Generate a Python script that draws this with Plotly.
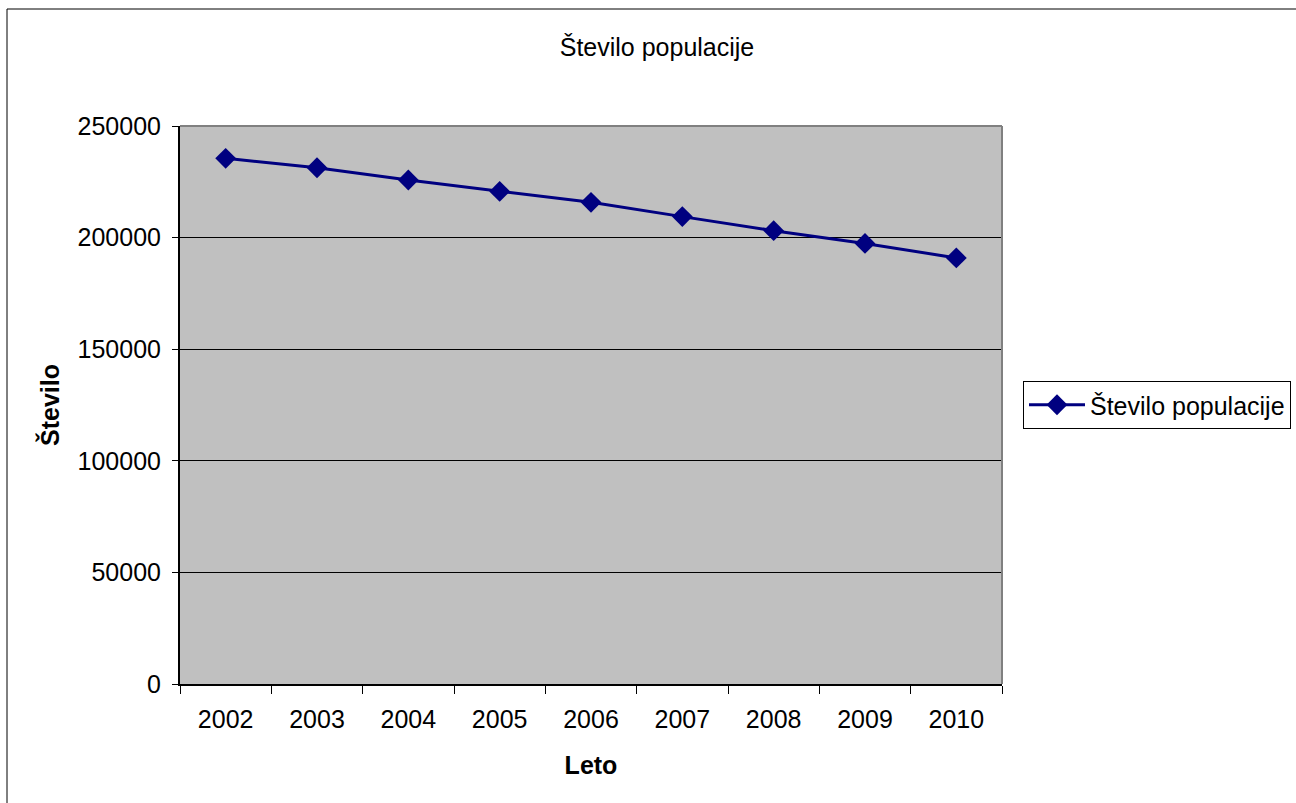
import plotly.graph_objects as go

# Population by year
years = ["2002", "2003", "2004", "2005", "2006", "2007", "2008", "2009", "2010"]
population = [235500, 231300, 225800, 220700, 215800, 209400, 203100, 197400, 190900]
y_ticks = [0, 50000, 100000, 150000, 200000, 250000]
series_name = "Število populacije"

NAVY = "#000080"
FONT = "Liberation Sans, Arial, sans-serif"
FS = 25

fig = go.Figure(
    go.Scatter(
        x=years,
        y=population,
        mode="lines+markers",
        name=series_name,
        line=dict(color=NAVY, width=3),
        marker=dict(symbol="diamond", size=16, color=NAVY),
    )
)

W, H = 1296, 803
L, R, T, B = 180, 1296 - 1002, 126, 803 - 684

fig.update_layout(
    width=W,
    height=H,
    margin=dict(l=L, r=R, t=T, b=B, autoexpand=False),
    paper_bgcolor="white",
    plot_bgcolor="#C0C0C0",
    font=dict(family=FONT, size=FS, color="black"),
    title=dict(
        text="Število populacije",
        x=657 / W,
        xanchor="center",
        y=1 - 47 / H,
        yanchor="middle",
        font=dict(size=FS),
    ),
    showlegend=True,
    legend=dict(
        x=(1023 - L) / (W - L - R),
        xanchor="left",
        y=0.5,
        yanchor="middle",
        bordercolor="black",
        borderwidth=1,
        bgcolor="white",
        font=dict(size=FS),
        itemwidth=56,
    ),
    xaxis=dict(
        type="category",
        range=[-0.5, len(years) - 0.5],
        tickson="boundaries",
        ticks="outside",
        ticklen=8,
        tickcolor="black",
        tickwidth=1,
        ticklabelstandoff=12,
        showline=True,
        linecolor="black",
        linewidth=2,
        showgrid=False,
        zeroline=False,
        title=dict(text="<b>Leto</b>", standoff=24, font=dict(size=FS)),
        automargin=False,
    ),
    yaxis=dict(
        range=[0, 250000],
        tickvals=y_ticks,
        ticktext=[str(v) for v in y_ticks],
        ticks="outside",
        ticklen=6,
        tickcolor="black",
        tickwidth=1,
        ticklabelstandoff=6,
        showline=True,
        linecolor="black",
        linewidth=2,
        showgrid=True,
        gridcolor="black",
        gridwidth=1,
        zeroline=False,
        title=dict(text="<b>Število</b>", standoff=11, font=dict(size=FS)),
        automargin=False,
    ),
)

# Grey frame on the top and right of the plot area
fig.add_shape(type="line", xref="paper", yref="paper", x0=0, x1=1, y0=1, y1=1,
              line=dict(color="#808080", width=2))
fig.add_shape(type="line", xref="paper", yref="paper", x0=1, x1=1, y0=0, y1=1,
              line=dict(color="#808080", width=2))

# Outer chart-area border (left and top edges)
pw, ph = W - L - R, H - T - B
bx0 = (7 - L) / pw
by1 = (H - B - 9) / ph
fig.add_shape(type="line", xref="paper", yref="paper", x0=bx0, x1=(W + 10 - L) / pw,
              y0=by1, y1=by1, line=dict(color="black", width=1))
fig.add_shape(type="line", xref="paper", yref="paper", x0=bx0, x1=bx0,
              y0=by1, y1=-(B + 10) / ph, line=dict(color="black", width=1))

fig.write_html("out.html")
